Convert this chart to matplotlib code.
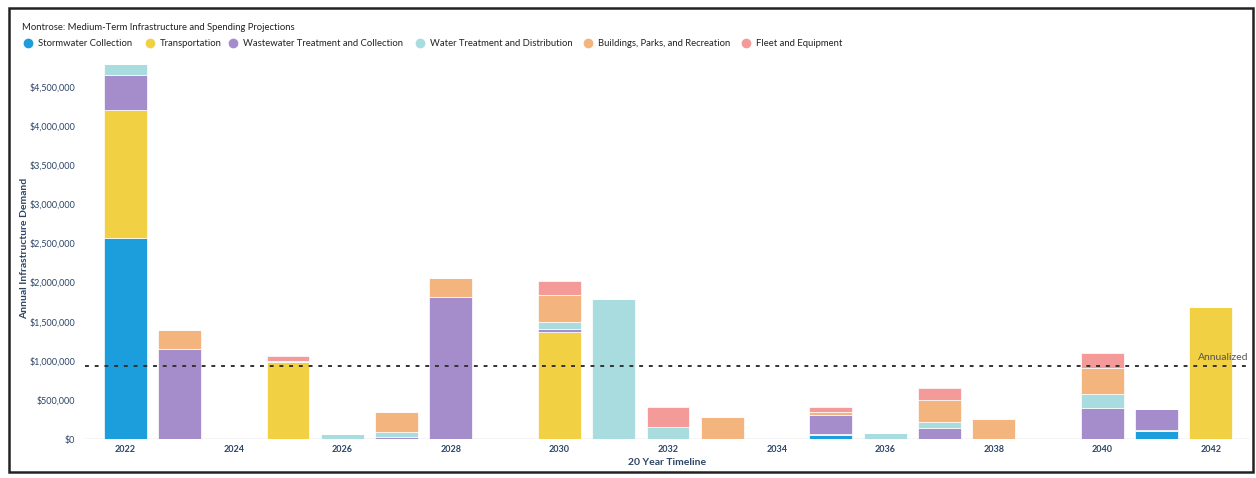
import matplotlib
matplotlib.use("Agg")
import matplotlib.pyplot as plt
import numpy as np
from matplotlib.lines import Line2D
from matplotlib.patches import Rectangle
from matplotlib.ticker import FuncFormatter

plt.rcParams["font.family"] = ["Lato", "DejaVu Sans"]

# projected demand by category, 2022-2042 (dollars)
years = list(range(2022, 2043))
stormwater = [2570000, 0, 0, 0, 0, 0, 0, 0, 0, 0, 0, 0, 0, 45000, 0, 0, 0, 0, 0, 100000, 0]
transportation = [1630000, 0, 0, 980000, 0, 0, 0, 0, 1370000, 0, 0, 0, 0, 15000, 0, 0, 0, 0, 0, 20000, 1690000]
wastewater = [450000, 1150000, 0, 0, 0, 30000, 1810000, 0, 40000, 0, 0, 0, 0, 245000, 0, 145000, 0, 0, 400000, 260000, 0]
water = [140000, 0, 0, 20000, 70000, 60000, 0, 0, 85000, 1785000, 155000, 0, 0, 0, 80000, 70000, 0, 0, 170000, 0, 0]
buildings = [0, 240000, 0, 0, 0, 255000, 250000, 0, 340000, 0, 0, 275000, 0, 35000, 0, 280000, 250000, 0, 340000, 0, 0]
fleet = [0, 0, 0, 65000, 0, 0, 0, 0, 180000, 0, 250000, 0, 0, 70000, 0, 160000, 0, 0, 190000, 0, 0]

categories = ["Stormwater Collection", "Transportation", "Wastewater Treatment and Collection",
              "Water Treatment and Distribution", "Buildings, Parks, and Recreation", "Fleet and Equipment"]
series = [stormwater, transportation, wastewater, water, buildings, fleet]
colors = ["#1c9ddc", "#f2d043", "#a48dca", "#a9dcdf", "#f3b57d", "#f49a98"]

navy = "#2c4566"

fig = plt.figure(figsize=(12.56, 4.78), dpi=100)
ax = fig.add_axes([85 / 1256, 1 - 439 / 478, 1165 / 1256, 379.6 / 478])

bottom = np.zeros(len(years))
for vals, col in zip(series, colors):
    vals = np.array(vals, dtype=float)
    ax.bar(years, vals, width=0.79, bottom=bottom, color=col,
           edgecolor="white", linewidth=0.5)
    bottom += vals

# annualized demand over the 20 year window
annualized = bottom.sum() / 20
ax.axhline(annualized, color="#333333", linestyle=(0, (2, 3)), linewidth=1.4)
ax.text(2042.7, annualized + 40000, "Annualized", ha="right", va="bottom",
        fontsize=7.5, color="#555555")

ax.axhline(0, color="#cccccc", linewidth=1, zorder=0)

ax.set_xlim(2021.26, 2042.72)
ax.set_ylim(0, 4850000)
ax.set_yticks(np.arange(0, 4500001, 500000))
ax.yaxis.set_major_formatter(FuncFormatter(lambda v, p: f"${v:,.0f}"))
ax.set_xticks(years[::2])
ax.tick_params(axis="both", length=0, labelsize=6.5, colors=navy)
ax.tick_params(axis="y", pad=7)
ax.tick_params(axis="x", pad=4)
for lbl in ax.get_xticklabels():
    lbl.set_fontweight("bold")
for s in ax.spines.values():
    s.set_visible(False)

ax.set_xlabel("20 Year Timeline", fontsize=7.5, fontweight="bold", color=navy, labelpad=3)
fig.text(25 / 1256, 1 - 248 / 478, "Annual Infrastructure Demand", rotation=90,
         ha="center", va="center", fontsize=7.5, fontweight="bold", color=navy)

# title and legend row
fig.text(22 / 1256, 1 - 27 / 478, "Montrose: Medium-Term Infrastructure and Spending Projections",
         ha="left", va="center", fontsize=6.8, color="#222222")
marker_x = [28, 150, 233, 420, 588, 746]
for mx, name, col in zip(marker_x, categories, colors):
    fig.add_artist(Line2D([mx / 1256], [1 - 43 / 478], marker="o", markersize=6,
                          color=col, linestyle="none", transform=fig.transFigure))
    fig.text((mx + 10) / 1256, 1 - 43 / 478, name, ha="left", va="center",
             fontsize=6.8, color="#222222")

# outer frame
fig.add_artist(Rectangle((9 / 1256, 1 - 472 / 478), 1244 / 1256, 464 / 478,
                         transform=fig.transFigure, fill=False,
                         edgecolor="#222222", linewidth=1.8))

fig.savefig("out.png", dpi=100)
